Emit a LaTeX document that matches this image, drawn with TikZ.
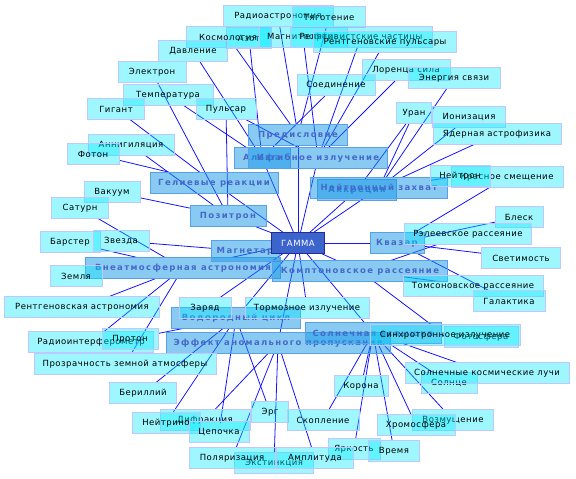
\documentclass[tikz,border=0pt]{standalone}
\usepackage{fontspec}
\setmainfont{DejaVu Sans}[LetterSpace=6]
\newfontfamily\topicfont{DejaVu Sans}[LetterSpace=16]
\usetikzlibrary{backgrounds}

\definecolor{cardfill}{RGB}{0,235,255}
\definecolor{carddraw}{RGB}{190,200,255}
\definecolor{topicfill}{RGB}{20,150,230}
\definecolor{topicdraw}{RGB}{90,160,230}
\definecolor{topictext}{RGB}{70,105,200}
\definecolor{hubfill}{RGB}{60,100,205}
\definecolor{hubdraw}{RGB}{40,40,150}
\definecolor{linkblue}{RGB}{20,20,255}

\tikzset{
  card/.style={draw=carddraw, fill=cardfill, fill opacity=0.38, text opacity=1,
    minimum height=21pt, inner sep=1pt, text=black, font=\fontsize{8.5}{10}\selectfont},
  topic/.style={draw=topicdraw, fill=topicfill, fill opacity=0.5, text opacity=1,
    minimum height=21pt, inner sep=1pt, text=topictext,
    font=\topicfont\bfseries\fontsize{8.5}{10}\selectfont},
  hub/.style={draw=hubdraw, fill=hubfill, minimum height=21pt, inner sep=1pt,
    text=white, font=\fontsize{8.5}{10}\selectfont},
  link/.style={draw=linkblue, line width=0.8pt}
}

\begin{document}
\begin{tikzpicture}[x=1pt, y=-1pt]
    \useasboundingbox (0,0) rectangle (576,479);

    % topics
    \node[topic, minimum width=99pt] (pred) at (298,135) {Предисловие};
    \node[topic, minimum width=56pt] (al) at (262,158) {Альфа};
    \node[topic, minimum width=139pt] (izg) at (318,158) {Изгибное излучение};
    \node[topic, minimum width=128pt] (gel) at (214,183) {Гелиевые реакции};
    \node[topic, minimum width=79pt] (akk) at (357,190) {Аккреция};
    \node[topic, minimum width=137pt] (nz) at (379,188) {Нейтронный захват};
    \node[topic, minimum width=76pt] (poz) at (228,216) {Позитрон};
    \node[topic, minimum width=54pt] (kvaz) at (397,243) {Квазар};
    \node[topic, minimum width=195pt] (vneatm) at (183,268) {Внеатмосферная астрономия};
    \node[topic, minimum width=68pt] (magnetar) at (245,251) {Магнетар};
    \node[topic, minimum width=175pt] (kompt) at (360,271) {Комптоновское рассеяние};
    \node[topic, minimum width=129pt] (vodor) at (236,318) {Водородный цикл};
    \node[topic, minimum width=224pt] (eff) at (278,343) {Эффект аномального пропускания};
    \node[topic, minimum width=136pt] (solvs) at (373,333) {Солнечная вспышка};

    % cards, top
    \node[card, minimum width=110pt] (radio) at (278,16) {Радиоастрономия};
    \node[card, minimum width=73pt] (tyag) at (329,17) {Тяготение};
    \node[card, minimum width=45pt] (azot) at (249,38) {Азот};
    \node[card, minimum width=84pt] (kosm) at (228,37) {Космология};
    \node[card, minimum width=88pt] (magn) at (303,37) {Магнитосфера};
    \node[card, minimum width=142pt] (rel) at (361,37) {Релятивистские частицы};
    \node[card, minimum width=143pt] (rentp) at (385,42) {Рентгеновские пульсары};
    \node[card, minimum width=69pt] (davl) at (193,51) {Давление};
    \node[card, minimum width=68pt] (elek) at (152,72) {Электрон};
    \node[card, minimum width=88pt] (lor) at (406,70) {Лоренца сила};
    \node[card, minimum width=92pt] (energ) at (454,78) {Энергия связи};
    \node[card, minimum width=78pt] (soed) at (336,85) {Соединение};
    \node[card, minimum width=90pt] (temp) at (168,95) {Температура};
    \node[card, minimum width=57pt] (gig) at (116,109) {Гигант};
    \node[card, minimum width=60pt] (puls) at (226,109) {Пульсар};
    \node[card, minimum width=35pt] (uran) at (414,113) {Уран};
    \node[card, minimum width=73pt] (ion) at (469,117) {Ионизация};
    \node[card, minimum width=128pt] (yad) at (497,134) {Ядерная астрофизика};
    \node[card, minimum width=86pt] (anni) at (131,145) {Аннигиляция};
    \node[card, minimum width=52pt] (foton) at (93,154) {Фотон};

    % cards, middle
    \node[card, minimum width=56pt] (vak) at (112,192) {Вакуум};
    \node[card, minimum width=57pt] (sat) at (80,208) {Сатурн};
    \node[card, minimum width=112pt] (kras) at (507,177) {Красное смещение};
    \node[card, minimum width=60pt] (neutron) at (460,176) {Нейтрон};
    \node[card, minimum width=48pt] (blesk) at (519,217) {Блеск};
    \node[card, minimum width=127pt] (rel2) at (468,234) {Рэлеевское рассеяние};
    \node[card, minimum width=79pt] (svet) at (521,258) {Светимость};
    \node[card, minimum width=60pt] (barst) at (70,242) {Барстер};
    \node[card, minimum width=56pt] (zvezda) at (121,241) {Звезда};
    \node[card, minimum width=52pt] (zemlya) at (76,276) {Земля};
    \node[card, minimum width=140pt] (toms) at (473,286) {Томсоновское рассеяние};
    \node[card, minimum width=72pt] (galak) at (509,301) {Галактика};
    \node[card, minimum width=155pt] (rastr) at (82,307) {Рентгеновская астрономия};
    \node[card, minimum width=52pt] (zaryad) at (205,308) {Заряд};
    \node[card, minimum width=124pt] (torm) at (307,308) {Тормозное излучение};

    % cards, bottom
    \node[card, minimum width=125pt] (radioint) at (91,342) {Радиоинтерферометр};
    \node[card, minimum width=56pt] (proton) at (130,339) {Протон};
    \node[card, minimum width=182pt] (prozr) at (125,364) {Прозрачность земной атмосферы};
    \node[card, minimum width=74pt] (fotosf) at (481,337) {Фотосфера};
    \node[card, minimum width=150pt] (sinh) at (445,335) {Синхротронное излучение};
    \node[card, minimum width=56pt] (solnce) at (449,383) {Солнце};
    \node[card, minimum width=164pt] (sck) at (487,373) {Солнечные космические лучи};
    \node[card, minimum width=54pt] (korona) at (361,386) {Корона};
    \node[card, minimum width=67pt] (beril) at (143,393) {Бериллий};
    \node[card, minimum width=81pt] (vozm) at (453,420) {Возмущение};
    \node[card, minimum width=78pt] (hrom) at (416,425) {Хромосфера};
    \node[card, minimum width=37pt] (erg) at (270,412) {Эрг};
    \node[card, minimum width=72pt] (skopl) at (323,420) {Скопление};
    \node[card, minimum width=90pt] (difr) at (205,420) {Дифракция};
    \node[card, minimum width=68pt] (neitrino) at (166,423) {Нейтрино};
    \node[card, minimum width=60pt] (cepochka) at (219,432) {Цепочка};
    \node[card, minimum width=52pt] (yark) at (354,449) {Яркость};
    \node[card, minimum width=51pt] (vremya) at (394,451) {Время};
    \node[card, minimum width=79pt] (ekst) at (274,463) {Экстинкция};
    \node[card, minimum width=86pt] (polyar) at (232,458) {Поляризация};
    \node[card, minimum width=77pt] (ampl) at (315,458) {Амплитуда};

    \node[hub, minimum width=53pt] (gamma) at (298,243) {ГАММА};

    \begin{scope}[on background layer]
    \path[link]
    (gamma) edge (pred) edge (al) edge (izg) edge (gel) edge (poz)
            edge (nz) edge (akk) edge (kvaz) edge (magnetar) edge (vneatm)
            edge (kompt) edge (vodor) edge (eff) edge (solvs) edge (torm)
            edge (zaryad)
    (pred) edge (radio) edge (tyag) edge (kosm)
    (al) edge (azot) edge (davl) edge (temp) edge (soed)
    (izg) edge (magn) edge (rel) edge (rentp) edge (lor) edge (puls)
    (gel) edge (gig) edge (foton)
    (poz) edge (elek) edge (anni) edge (vak) edge (puls)
    (nz) edge (energ) edge (uran) edge (ion) edge (yad) edge (neutron)
    (akk) edge (uran)
    (kvaz) edge (kras) edge (blesk) edge (svet) edge (galak)
    (kompt) edge (rel2) edge (toms) edge (sinh)
    (magnetar) edge (zvezda)
    (vneatm) edge (sat) edge (barst) edge (rastr) edge (radioint) edge (prozr)
    (vodor) edge (proton) edge (beril) edge (cepochka) edge (neitrino) edge (erg)
    (eff) edge (difr) edge (polyar) edge (ekst) edge (ampl)
    (solvs) edge (korona) edge (yark) edge (vremya) edge (hrom) edge (vozm)
            edge (sck) edge (solnce) edge (fotosf) edge (skopl);
    \end{scope}
\end{tikzpicture}
\end{document}
